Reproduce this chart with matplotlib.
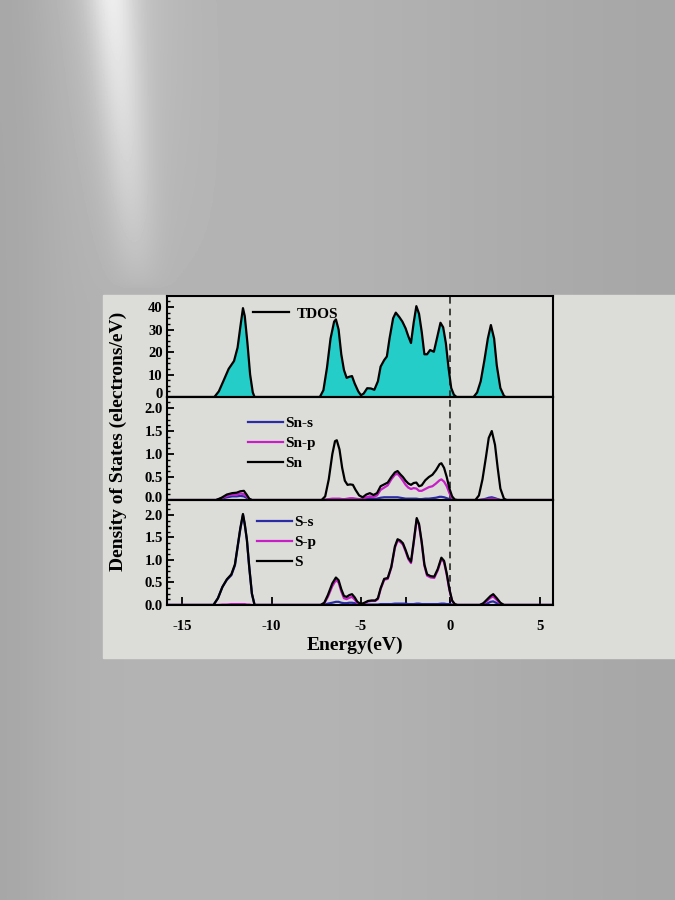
import numpy as np
import matplotlib
matplotlib.use('Agg')
import matplotlib.pyplot as plt
from matplotlib.ticker import AutoMinorLocator, MultipleLocator, FixedLocator, FormatStrFormatter
from matplotlib.patches import Rectangle
from matplotlib.transforms import ScaledTranslation

plt.rcParams['font.family'] = ['Liberation Serif', 'DejaVu Serif']
plt.rcParams['font.weight'] = 'bold'
plt.rcParams['axes.unicode_minus'] = False

# ---- top panel: total DOS ----
tdos_energy = [-15.85, -13.2, -12.95, -12.7, -12.4, -12.1, -11.9, -11.75, -11.6, -11.5, -11.35, -11.2, -11.05,
               -10.95, -7.3, -7.1, -6.9, -6.7, -6.5, -6.4, -6.25, -6.1, -5.95, -5.8, -5.65, -5.5, -5.35, -5.15,
               -5.0, -4.85, -4.65, -4.45, -4.25, -4.05, -3.9, -3.7, -3.55, -3.4, -3.2, -3.05, -2.85, -2.68, -2.5,
               -2.35, -2.2, -2.05, -1.9, -1.75, -1.6, -1.45, -1.3, -1.13, -0.92, -0.75, -0.55, -0.4, -0.25, -0.1,
               0.05, 0.2, 0.35, 1.3, 1.5, 1.7, 1.9, 2.1, 2.27, 2.45, 2.6, 2.8, 3.0, 3.1, 5.75]
tdos = [0, 0, 2.5, 7, 12.5, 16, 22, 31, 39.5, 36, 24, 10, 2,
        0, 0, 3, 13, 26, 33.5, 34.5, 30, 19, 12, 8.5, 9, 9.3, 6, 2.5,
        0.8, 1.5, 3.9, 3.8, 3.2, 7, 13.5, 16.4, 18, 26, 35, 37.5, 35.5, 33.5, 30.5,
        27, 24, 33, 40.4, 37, 29, 19, 19, 20.9, 20.1, 26, 33, 31, 24, 13,
        4, 1, 0, 0, 2, 7, 16, 26, 32, 26, 14, 4, 0.5, 0, 0]

# ---- middle panel: Sn projected DOS ----
sn_energy = [-15.85, -13.1, -12.8, -12.5, -12.2, -11.95, -11.75, -11.55, -11.4, -11.25, -11.1,
             -7.2, -7.0, -6.8, -6.6, -6.45, -6.35, -6.2, -6.05, -5.9, -5.75, -5.6, -5.45, -5.3, -5.1,
             -4.9, -4.7, -4.5, -4.3, -4.1, -3.9, -3.7, -3.5, -3.3, -3.1, -2.95, -2.8, -2.65, -2.5, -2.35,
             -2.2, -2.05, -1.9, -1.75, -1.6, -1.4, -1.2, -1.0, -0.8, -0.6, -0.5, -0.35, -0.2, -0.05, 0.1,
             0.25, 0.4, 1.4, 1.6, 1.8, 2.0, 2.15, 2.32, 2.5, 2.65, 2.8, 3.0, 3.15, 5.75]
sn_total = [0, 0, 0.05, 0.12, 0.15, 0.16, 0.19, 0.2, 0.12, 0.03, 0,
            0, 0.08, 0.45, 1.0, 1.28, 1.3, 1.1, 0.7, 0.42, 0.33, 0.34, 0.33, 0.22, 0.1,
            0.06, 0.12, 0.15, 0.11, 0.15, 0.3, 0.34, 0.38, 0.5, 0.6, 0.63, 0.56, 0.5, 0.42, 0.36,
            0.33, 0.37, 0.38, 0.3, 0.32, 0.43, 0.5, 0.55, 0.65, 0.78, 0.8, 0.7, 0.5, 0.25, 0.08,
            0.01, 0, 0, 0.1, 0.45, 0.95, 1.35, 1.5, 1.2, 0.7, 0.25, 0.03, 0, 0]
sn_p = [0, 0, 0.04, 0.09, 0.12, 0.12, 0.14, 0.13, 0.08, 0.02, 0,
        0, 0.01, 0.02, 0.03, 0.03, 0.03, 0.03, 0.02, 0.02, 0.03, 0.04, 0.04, 0.03, 0.02,
        0.03, 0.06, 0.08, 0.07, 0.1, 0.22, 0.27, 0.32, 0.45, 0.55, 0.57, 0.5, 0.42, 0.33, 0.27,
        0.24, 0.26, 0.25, 0.2, 0.2, 0.24, 0.28, 0.3, 0.36, 0.43, 0.45, 0.4, 0.3, 0.15, 0.04,
        0, 0, 0, 0, 0.01, 0.01, 0.02, 0.03, 0.02, 0.01, 0, 0, 0, 0]
sn_s = [0, 0, 0.03, 0.06, 0.08, 0.08, 0.09, 0.08, 0.05, 0.01, 0,
        0, 0, 0.01, 0.02, 0.02, 0.02, 0.01, 0.01, 0.01, 0.01, 0.01, 0.01, 0.01, 0.01,
        0.02, 0.03, 0.04, 0.03, 0.03, 0.05, 0.06, 0.06, 0.06, 0.06, 0.06, 0.05, 0.04, 0.03, 0.03,
        0.03, 0.03, 0.03, 0.02, 0.02, 0.03, 0.03, 0.04, 0.05, 0.07, 0.07, 0.06, 0.04, 0.02, 0.01,
        0, 0, 0, 0, 0.01, 0.03, 0.05, 0.06, 0.04, 0.02, 0, 0, 0, 0]

# ---- bottom panel: S projected DOS ----
s_energy = [-15.85, -13.25, -13.0, -12.75, -12.5, -12.25, -12.05, -11.9, -11.75, -11.6, -11.5, -11.38,
            -11.25, -11.1, -10.95, -7.25, -7.05, -6.85, -6.6, -6.4, -6.25, -6.1, -5.95, -5.8, -5.65, -5.5,
            -5.35, -5.2, -5.0, -4.8, -4.6, -4.4, -4.2, -4.05, -3.9, -3.7, -3.5, -3.3, -3.1, -2.95, -2.8,
            -2.65, -2.5, -2.35, -2.2, -2.05, -1.88, -1.75, -1.6, -1.45, -1.3, -1.1, -0.9, -0.7, -0.5, -0.35,
            -0.2, -0.05, 0.1, 0.25, 0.4, 1.65, 1.85, 2.05, 2.25, 2.4, 2.6, 2.8, 3.0, 5.75]
s_total = [0, 0, 0.15, 0.4, 0.57, 0.68, 0.9, 1.3, 1.7, 2.02, 1.8, 1.45,
           0.85, 0.25, 0, 0, 0.05, 0.22, 0.48, 0.61, 0.55, 0.35, 0.2, 0.18, 0.22, 0.24,
           0.17, 0.07, 0.02, 0.05, 0.09, 0.1, 0.1, 0.15, 0.37, 0.58, 0.6, 0.85, 1.3, 1.46, 1.43,
           1.37, 1.22, 1.05, 0.96, 1.4, 1.93, 1.8, 1.4, 0.9, 0.68, 0.64, 0.63, 0.8, 1.05, 0.98,
           0.7, 0.35, 0.1, 0.02, 0, 0, 0.04, 0.12, 0.2, 0.24, 0.15, 0.05, 0, 0]
s_p = [0, 0, 0.0, 0.01, 0.01, 0.02, 0.02, 0.02, 0.02, 0.02, 0.02, 0.01,
       0.01, 0, 0, 0, 0.04, 0.18, 0.42, 0.55, 0.5, 0.3, 0.15, 0.13, 0.16, 0.18,
       0.12, 0.04, 0.01, 0.04, 0.08, 0.09, 0.09, 0.13, 0.35, 0.56, 0.58, 0.83, 1.27, 1.43, 1.4,
       1.34, 1.19, 1.02, 0.93, 1.37, 1.9, 1.77, 1.37, 0.87, 0.65, 0.61, 0.6, 0.77, 1.02, 0.95,
       0.67, 0.33, 0.09, 0.01, 0, 0, 0.03, 0.09, 0.16, 0.19, 0.11, 0.03, 0, 0]
s_s = [0, 0, 0.15, 0.4, 0.56, 0.66, 0.88, 1.28, 1.68, 2.0, 1.78, 1.44,
       0.84, 0.25, 0, 0, 0.01, 0.03, 0.05, 0.07, 0.07, 0.05, 0.04, 0.04, 0.05, 0.05,
       0.04, 0.02, 0.01, 0.01, 0.01, 0.01, 0.01, 0.01, 0.02, 0.02, 0.02, 0.02, 0.03, 0.03, 0.03,
       0.03, 0.03, 0.02, 0.02, 0.02, 0.03, 0.03, 0.02, 0.02, 0.02, 0.02, 0.02, 0.02, 0.03, 0.03,
       0.02, 0.02, 0.01, 0, 0, 0, 0.01, 0.03, 0.07, 0.08, 0.04, 0.01, 0, 0]

CYAN = '#25cdc8'
BLUE = '#2b2ba5'
MAGENTA = '#c81ec8'
SLIDE = '#dcdcd8'
LW = 1.6


def draw_background(fig):
    # photo of a screen: grey surround with a bright streak top-left, lighter slide in the middle
    bg = fig.add_axes([0, 0, 1, 1], zorder=-10)
    yy, xx = np.mgrid[0:1:300j, 0:1:225j]   # yy = 0 at the top row
    shade = 0.69 + 0.03 * np.exp(-((xx - 0.45) / 0.35) ** 2) - 0.04 * xx - 0.04 * np.exp(-(xx / 0.08) ** 2)
    streak = np.exp(-((xx - 0.165 - 0.12 * yy) / 0.035) ** 2) * np.clip(1 - yy / 0.32, 0, 1) ** 0.6
    glow = np.exp(-((xx - 0.17 - 0.12 * yy) / 0.09) ** 2) * np.clip(1 - yy / 0.34, 0, 1)
    shade += 0.17 * streak + 0.06 * glow
    bg.imshow(shade, cmap='gray', vmin=0, vmax=1, extent=[0, 1, 0, 1], aspect='auto', origin='upper')
    bg.add_patch(Rectangle((0.1526, 0.2689), 0.8474, 0.4033, color=SLIDE, zorder=2))
    bg.set_xlim(0, 1)
    bg.set_ylim(0, 1)
    bg.axis('off')


def style_axis(ax, ymax, major, bottom=False):
    ax.set_facecolor('none')
    ax.set_xlim(-15.85, 5.75)
    ax.set_ylim(0, ymax)
    ax.yaxis.set_major_locator(MultipleLocator(major))
    ax.yaxis.set_minor_locator(AutoMinorLocator(4))
    ax.tick_params(axis='y', which='major', direction='in', length=5, width=1.3, labelsize=10.5, pad=3)
    ax.tick_params(axis='y', which='minor', direction='in', length=2.5, width=1.0)
    ax.tick_params(right=False, top=False)
    for sp in ax.spines.values():
        sp.set_linewidth(1.5)
    ax.axvline(0, color='#222222', ls=(0, (4, 3)), lw=1.2, zorder=1)
    if bottom:
        ax.xaxis.set_major_locator(MultipleLocator(5))
        ax.xaxis.set_minor_locator(FixedLocator([-2.5]))
        ax.tick_params(axis='x', which='both', direction='in', length=6, width=1.3, labelsize=10.5, pad=11)
    else:
        ax.tick_params(axis='x', which='both', bottom=False, labelbottom=False)


def lift_zero_label(fig, ax, points):
    # the zero label sits on the panel border, nudge it up as in the original
    fig.canvas.draw()
    for lab in ax.get_yticklabels():
        if lab.get_text() in ('0', '0.0'):
            lab.set_transform(lab.get_transform() + ScaledTranslation(0, points / 72, fig.dpi_scale_trans))


fig = plt.figure(figsize=(6.75, 9), dpi=100)
draw_background(fig)

left, width = 0.2474, 0.572
ax1 = fig.add_axes([left, 0.5589, width, 0.1122])
ax2 = fig.add_axes([left, 0.4444, width, 0.1145])
ax3 = fig.add_axes([left, 0.3278, width, 0.1166])

# total DOS
ax1.fill_between(tdos_energy, tdos, 0, color=CYAN, lw=0)
ax1.plot(tdos_energy, tdos, color='black', lw=LW, label='TDOS')
style_axis(ax1, 44.9, 10)
ax1.legend(loc='upper left', bbox_to_anchor=(0.222, 0.89), frameon=False, fontsize=11,
           handlelength=2.4, handletextpad=0.45, borderpad=0, borderaxespad=0)

# Sn
ax2.plot(sn_energy, sn_s, color=BLUE, lw=LW, label='Sn-s')
ax2.plot(sn_energy, sn_p, color=MAGENTA, lw=LW, label='Sn-p')
ax2.plot(sn_energy, sn_total, color='black', lw=LW, label='Sn')
style_axis(ax2, 2.24, 0.5)
ax2.yaxis.set_major_formatter(FormatStrFormatter('%.1f'))
ax2.legend(loc='upper left', bbox_to_anchor=(0.21, 0.81), frameon=False, fontsize=11,
           handlelength=2.3, handletextpad=0.15, labelspacing=0.42, borderpad=0, borderaxespad=0)

# S
ax3.plot(s_energy, s_s, color=BLUE, lw=LW, label='S-s')
ax3.plot(s_energy, s_p, color=MAGENTA, lw=LW, label='S-p')
ax3.plot(s_energy, s_total, color='black', lw=LW, label='S')
style_axis(ax3, 2.33, 0.5, bottom=True)
ax3.yaxis.set_major_formatter(FormatStrFormatter('%.1f'))
ax3.legend(loc='upper left', bbox_to_anchor=(0.233, 0.855), frameon=False, fontsize=11,
           handlelength=2.3, handletextpad=0.15, labelspacing=0.42, borderpad=0, borderaxespad=0)
ax3.set_xlabel('Energy(eV)', fontsize=14, fontweight='bold', labelpad=3)
ax3.xaxis.set_label_coords(0.487, -0.3)

fig.text(118 / 675, 1 - 441 / 900, 'Density of States (electrons/eV)', rotation=90,
         ha='center', va='center', fontsize=14, fontweight='bold')

lift_zero_label(fig, ax1, 3)
lift_zero_label(fig, ax2, 2)

fig.savefig('out.png', dpi=100)
